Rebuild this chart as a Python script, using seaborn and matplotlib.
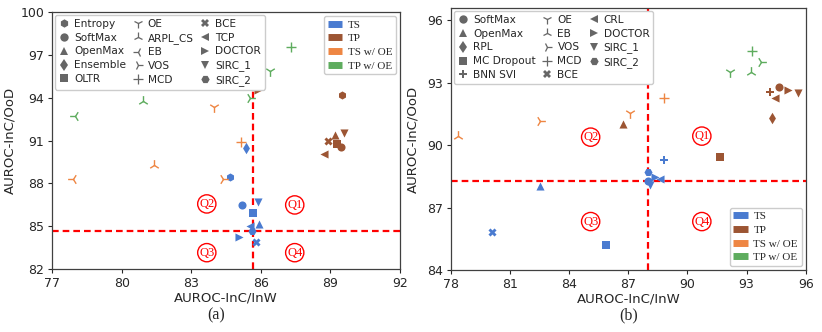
import numpy as np
import pandas as pd
import matplotlib
matplotlib.use("Agg")
import matplotlib.pyplot as plt
import seaborn as sns
from matplotlib.lines import Line2D

sns.set_style("ticks")
plt.rcParams['font.family'] = ['DejaVu Sans']
SERIF = ['Liberation Serif', 'DejaVu Serif']

# colours of the four settings
group_colors = {"TS": "#4a7bd0", "TP": "#9c5533", "TS w/ OE": "#ee8643", "TP w/ OE": "#5eac5e"}
group_names = ["TS", "TP", "TS w/ OE", "TP w/ OE"]

# ---- panel (a) data ----
a_method = ["Entropy", "SoftMax", "OpenMax", "Ensemble", "OLTR", "BCE", "TCP", "DOCTOR", "SIRC_1", "SIRC_2",
            "Entropy", "OpenMax", "SIRC_1", "BCE", "OLTR", "SoftMax", "TCP", "DOCTOR",
            "OE", "MCD", "ARPL_CS", "EB", "VOS",
            "OE", "MCD", "ARPL_CS", "EB", "VOS"]
a_group = ["TS"] * 10 + ["TP"] * 8 + ["TS w/ OE"] * 5 + ["TP w/ OE"] * 5
a_x = [84.66, 85.19, 85.90, 85.38, 85.67, 85.79, 85.53, 85.07, 85.86, 85.61,
       89.50, 89.19, 89.57, 88.90, 89.29, 89.47, 88.71, 85.86,
       83.97, 85.14, 81.40, 77.90, 84.39,
       86.40, 87.29, 80.90, 78.00, 85.55]
a_y = [88.48, 86.50, 85.15, 90.50, 85.96, 83.89, 85.03, 84.28, 86.73, 84.70,
       94.19, 91.39, 91.51, 90.97, 90.74, 90.57, 90.06, 94.54,
       93.37, 90.92, 89.29, 88.31, 88.31,
       95.89, 97.57, 93.79, 92.74, 93.96]
a_markers = {"Entropy": "h", "SoftMax": "o", "OpenMax": "^", "Ensemble": "d", "OLTR": "s",
             "OE": "1", "ARPL_CS": "2", "EB": "3", "VOS": "4", "MCD": "+",
             "BCE": "X", "TCP": "<", "DOCTOR": ">", "SIRC_1": "v", "SIRC_2": "H"}
a_cut = (85.65, 84.65)

# ---- panel (b) data ----
b_method = ["SoftMax", "OpenMax", "MC Dropout", "BNN SVI", "BCE", "CRL", "DOCTOR", "SIRC_1", "SIRC_2",
            "SoftMax", "OpenMax", "RPL", "MC Dropout", "BNN SVI", "CRL", "DOCTOR", "SIRC_1",
            "OE", "EB", "VOS", "MCD",
            "OE", "EB", "VOS", "MCD"]
b_group = ["TS"] * 9 + ["TP"] * 8 + ["TS w/ OE"] * 4 + ["TP w/ OE"] * 4
b_x = [88.00, 82.52, 85.86, 88.83, 80.10, 88.60, 88.36, 88.10, 88.00,
       94.66, 86.72, 94.28, 91.65, 94.19, 94.44, 95.11, 95.63,
       87.07, 78.36, 82.52, 88.83,
       92.16, 93.20, 93.72, 93.26]
b_y = [88.30, 88.06, 85.21, 89.31, 85.82, 88.39, 88.49, 88.10, 88.73,
       92.81, 91.00, 91.33, 89.44, 92.54, 92.26, 92.66, 92.49,
       91.57, 90.44, 91.16, 92.25,
       93.53, 93.53, 94.01, 94.52]
b_markers = {"SoftMax": "o", "OpenMax": "^", "RPL": "d", "MC Dropout": "s", "BNN SVI": "P",
             "OE": "1", "EB": "2", "VOS": "4", "MCD": "+", "BCE": "X",
             "CRL": "<", "DOCTOR": ">", "SIRC_1": "v", "SIRC_2": "H"}
b_cut = (88.0, 88.27)

LINE_ART = {"1", "2", "3", "4", "+"}


def draw_panel(ax, df, markers, cut, xlim, ylim, xticks, yticks, quad_pos, mleg_loc, cleg_loc):
    for (grp, meth), sub in df.groupby(["group", "method"], sort=False):
        m = markers[meth]
        c = group_colors[grp]
        if m in LINE_ART:
            sns.scatterplot(data=sub, x="x", y="y", marker=m, color=c, s=60, linewidth=1.0, ax=ax, zorder=3)
        else:
            sns.scatterplot(data=sub, x="x", y="y", marker=m, color=c, s=34, linewidth=0, ax=ax, zorder=3)

    ax.axvline(cut[0], color="red", lw=1.6, dashes=(3, 1.8), zorder=2)
    ax.axhline(cut[1], color="red", lw=1.6, dashes=(3, 1.8), zorder=2)

    for q, (qx, qy) in quad_pos.items():
        ax.text(qx, qy, q, color="red", family=SERIF, fontsize=9, ha="center", va="center",
                bbox=dict(boxstyle="circle,pad=0.12", fc="white", ec="red", lw=1.0), zorder=4)

    ax.set_xlim(*xlim)
    ax.set_ylim(*ylim)
    ax.set_xticks(xticks)
    ax.set_yticks(yticks)
    ax.tick_params(labelsize=9, length=3, width=0.8, pad=2.5)
    for s in ax.spines.values():
        s.set_color("0.25")
        s.set_linewidth(0.9)
    ax.set_xlabel("AUROC-InC/InW", fontsize=9.5, labelpad=1)
    ax.set_ylabel("AUROC-InC/OoD", fontsize=9.5)

    # marker legend
    handles = []
    for name, m in markers.items():
        if m in LINE_ART:
            h = Line2D([], [], marker=m, color="0.4", linestyle="none", markersize=7, markeredgewidth=0.9)
        else:
            h = Line2D([], [], marker=m, color="0.4", linestyle="none", markersize=6, markeredgewidth=0)
        handles.append(h)
    leg1 = ax.legend(handles, list(markers.keys()), ncol=3, loc=mleg_loc, fontsize=7.6,
                     handlelength=1.0, handletextpad=0.45, columnspacing=0.6, labelspacing=0.36,
                     borderpad=0.35, borderaxespad=0.3, framealpha=1, edgecolor="0.8")
    leg1.set_zorder(5)
    ax.add_artist(leg1)

    chandles = [Line2D([], [], color=group_colors[g], lw=5, solid_capstyle="butt") for g in group_names]
    leg2 = ax.legend(chandles, group_names, loc=cleg_loc, prop={"family": SERIF, "size": 8},
                     handlelength=1.3, handletextpad=0.5, labelspacing=0.35, borderpad=0.35,
                     borderaxespad=0.35, framealpha=1, edgecolor="0.8")
    leg2.set_zorder(5)
    return ax


df_a = pd.DataFrame({"method": a_method, "group": a_group, "x": a_x, "y": a_y})
df_b = pd.DataFrame({"method": b_method, "group": b_group, "x": b_x, "y": b_y})

fig = plt.figure(figsize=(8.22, 3.32), dpi=100)
ax_a = fig.add_axes([0.0633, 0.189, 0.4234, 0.775])
ax_b = fig.add_axes([0.5485, 0.1867, 0.4317, 0.7892])

draw_panel(ax_a, df_a, a_markers, a_cut, (77, 92), (82, 100),
           [77, 80, 83, 86, 89, 92], [82, 85, 88, 91, 94, 97, 100],
           {"Q1": (87.46, 86.5), "Q2": (83.67, 86.57), "Q3": (83.67, 83.16), "Q4": (87.46, 83.16)},
           "upper left", "upper right")
draw_panel(ax_b, df_b, b_markers, b_cut, (78, 96), (84, 96.6),
           [78, 81, 84, 87, 90, 93, 96], [84, 87, 90, 93, 96],
           {"Q1": (90.73, 90.44), "Q2": (85.09, 90.39), "Q3": (85.09, 86.33), "Q4": (90.73, 86.33)},
           "upper left", "lower right")

ax_a.yaxis.set_label_coords(-0.102, 0.5)
ax_b.yaxis.set_label_coords(-0.09, 0.5)

fig.text(216 / 822, 1 - 315 / 332, "(a)", family=SERIF, fontsize=11.5, ha="center", va="center")
fig.text(628.5 / 822, 1 - 315 / 332, "(b)", family=SERIF, fontsize=11.5, ha="center", va="center")

fig.savefig("out.png", dpi=100)
